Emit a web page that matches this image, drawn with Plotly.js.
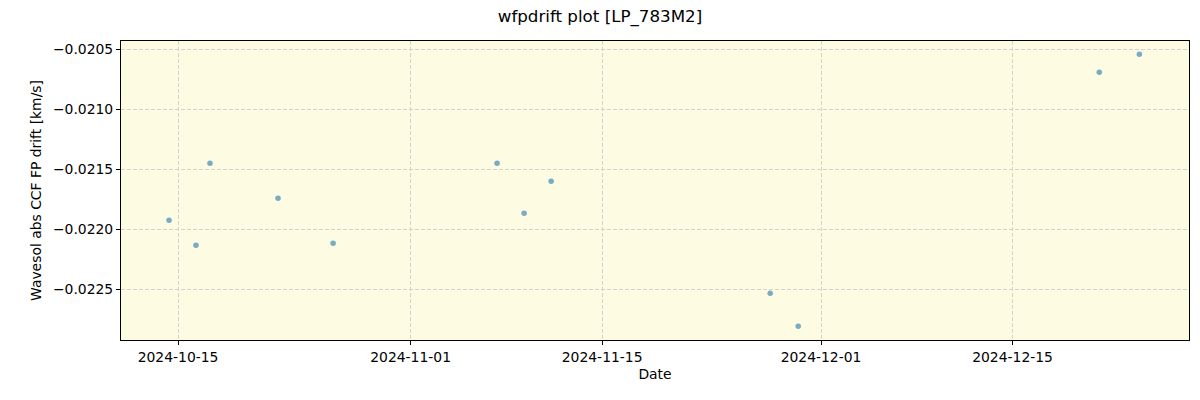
<!DOCTYPE html>
<html>
<head>
<meta charset="utf-8">
<script src="https://cdn.plot.ly/plotly-3.0.1.min.js"></script>
<style>html,body{margin:0;padding:0;background:#fff;}</style>
</head>
<body>
<div id="chart" style="width:1200px;height:400px;"></div>
<script>
const dates = [
  "2024-10-14 08:10", "2024-10-16 07:25", "2024-10-17 08:00", "2024-10-22 07:25",
  "2024-10-26 08:00", "2024-11-07 07:40", "2024-11-09 07:10", "2024-11-11 06:30",
  "2024-11-27 06:50", "2024-11-29 08:00", "2024-12-21 08:10", "2024-12-24 06:30"
];
const drift = [
  -0.021925, -0.022133, -0.02145, -0.021742,
  -0.022117, -0.02145, -0.021867, -0.0216,
  -0.022533, -0.022808, -0.020692, -0.020542
];
const xTickVals = ["2024-10-15", "2024-11-01", "2024-11-15", "2024-12-01", "2024-12-15"];
const yTickVals = [-0.0205, -0.0210, -0.0215, -0.0220, -0.0225];
const titleText = "wfpdrift plot [LP_783M2]";
const xTitle = "Date";
const yTitle = "Wavesol abs CCF FP drift [km/s]";

const font = {family: "DejaVu Sans, sans-serif", size: 13.9, color: "#000"};

Plotly.newPlot("chart", [{
  x: dates, y: drift, type: "scatter", mode: "markers",
  marker: {color: "rgba(31,119,180,0.6)", size: 5.5, line: {width: 0}},
  hoverinfo: "skip"
}], {
  width: 1200, height: 400,
  margin: {l: 121, r: 11, t: 41, b: 60},
  paper_bgcolor: "#ffffff",
  plot_bgcolor: "#fdfbe2",
  font: font,
  showlegend: false,
  title: {text: titleText, x: 0.5, xref: "container", xanchor: "center", y: 0.96, yanchor: "middle",
          font: {family: "DejaVu Sans, sans-serif", size: 16.7, color: "#000"}},
  xaxis: {
    type: "date",
    range: ["2024-10-10 19:55", "2024-12-27 21:35"],
    tickmode: "array", tickvals: xTickVals, ticktext: xTickVals,
    showgrid: true, gridcolor: "#d3d3d3", griddash: "4px,2px", gridwidth: 1,
    showline: true, linecolor: "#000", linewidth: 1, mirror: true,
    ticks: "outside", ticklen: 4, tickcolor: "#000",
    zeroline: false,
    tickfont: font,
    title: {text: xTitle, font: font, standoff: 5}
  },
  yaxis: {
    range: [-0.022923, -0.020431],
    tickmode: "array", tickvals: yTickVals, tickformat: ".4f",
    showgrid: true, gridcolor: "#d3d3d3", griddash: "4px,2px", gridwidth: 1,
    showline: true, linecolor: "#000", linewidth: 1, mirror: true,
    ticks: "outside", ticklen: 4, tickcolor: "#000",
    zeroline: false,
    tickfont: font,
    title: {text: yTitle, font: font, standoff: 8}
  }
}, {displayModeBar: false, staticPlot: true});
</script>
</body>
</html>
